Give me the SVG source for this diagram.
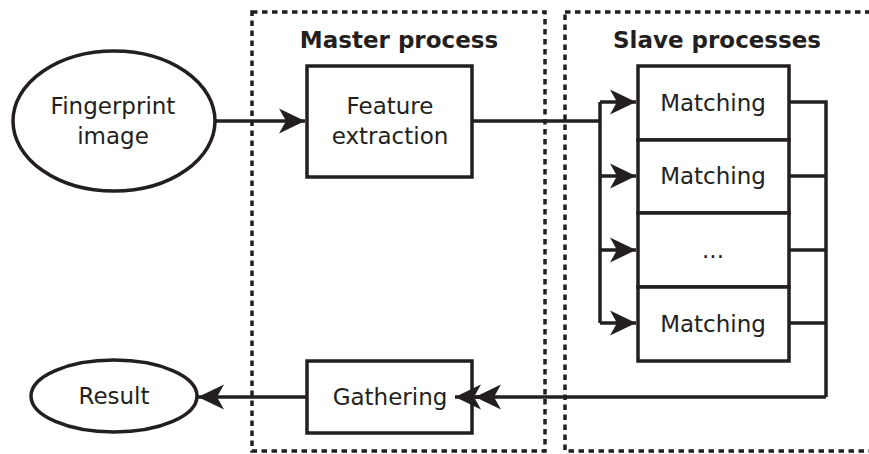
<svg xmlns="http://www.w3.org/2000/svg" width="869" height="454" viewBox="0 0 869 454">
<defs>
<style>
.n{fill:#fff;stroke:#231f20;stroke-width:3.5}
.t{font-family:"DejaVu Sans",sans-serif;font-size:23px;fill:#231f20;text-anchor:middle}
.h{font-family:"DejaVu Sans",sans-serif;font-size:23px;font-weight:bold;fill:#231f20;text-anchor:middle}
.g{fill:none;stroke:#231f20;stroke-width:3.5;stroke-dasharray:5.5 4.5}
.c{fill:none;stroke:#231f20;stroke-width:3.5}
</style>
<marker id="a" markerUnits="userSpaceOnUse" markerWidth="30" markerHeight="30" viewBox="-28 -14 30 28" refX="0" refY="0" orient="auto">
<path d="M0,0 L-26,-12.5 L-19,0 L-26,12.5 Z" fill="#231f20"/>
</marker>
</defs>
<rect width="869" height="454" fill="#fff"/>
<g id="master-group">
<rect class="g" x="252" y="12" width="293" height="439"/>
<text class="h" x="399" y="48">Master process</text>
</g>
<g id="slave-group">
<rect class="g" x="565" y="12" width="310" height="439"/>
<text class="h" x="717" y="48">Slave processes</text>
</g>
<g id="connectors">
<line class="c" x1="215" y1="121" x2="305" y2="121" marker-end="url(#a)"/>
<polyline class="c" points="472,121 600,121"/>
<line class="c" x1="600" y1="102" x2="600" y2="323"/>
<line class="c" x1="600" y1="102" x2="636" y2="102" marker-end="url(#a)"/>
<line class="c" x1="600" y1="176" x2="636" y2="176" marker-end="url(#a)"/>
<line class="c" x1="600" y1="250" x2="636" y2="250" marker-end="url(#a)"/>
<line class="c" x1="600" y1="323" x2="636" y2="323" marker-end="url(#a)"/>
<polyline class="c" points="789,102 826,102 826,397"/>
<line class="c" x1="789" y1="176" x2="826" y2="176"/>
<line class="c" x1="789" y1="250" x2="826" y2="250"/>
<line class="c" x1="789" y1="323" x2="826" y2="323"/>
<line class="c" x1="826" y1="397" x2="475" y2="397" marker-end="url(#a)"/>
<line class="c" x1="490" y1="397" x2="455" y2="397" marker-end="url(#a)"/>
<line class="c" x1="307" y1="397" x2="198" y2="397" marker-end="url(#a)"/>
</g>
<g id="fingerprint">
<ellipse class="n" cx="114" cy="121" rx="101" ry="70"/>
<text class="t" x="113" y="114">Fingerprint</text>
<text class="t" x="113" y="144">image</text>
</g>
<g id="feature">
<rect class="n" x="307" y="66" width="165" height="111"/>
<text class="t" x="390" y="114">Feature</text>
<text class="t" x="390" y="144">extraction</text>
</g>
<g id="matching1">
<rect class="n" x="638" y="66" width="151" height="74"/>
<text class="t" x="713" y="111">Matching</text>
</g>
<g id="matching2">
<rect class="n" x="638" y="140" width="151" height="73"/>
<text class="t" x="713" y="184">Matching</text>
</g>
<g id="ellipsis">
<rect class="n" x="638" y="213" width="151" height="74"/>
<text class="t" x="713" y="258">...</text>
</g>
<g id="matching3">
<rect class="n" x="638" y="287" width="151" height="74"/>
<text class="t" x="713" y="332">Matching</text>
</g>
<g id="gathering">
<rect class="n" x="307" y="361" width="165" height="72" fill-opacity="0"/>
<text class="t" x="390" y="405">Gathering</text>
</g>
<g id="result">
<ellipse class="n" cx="114" cy="396" rx="83" ry="36"/>
<text class="t" x="114" y="404">Result</text>
</g>
</svg>
